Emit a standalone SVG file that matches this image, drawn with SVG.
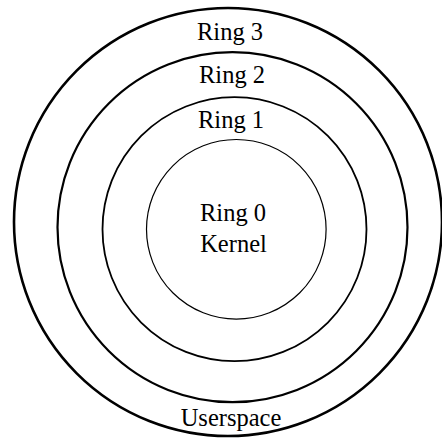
<svg xmlns="http://www.w3.org/2000/svg" width="442" height="440" viewBox="0 0 442 440">
<style>
  .ring { fill: none; stroke: #000; }
  .lbl { font-family: "Liberation Serif", "DejaVu Serif", serif; font-size: 24.5px; fill: #000; text-anchor: middle; }
</style>
<rect x="0" y="0" width="442" height="440" fill="#fff"/>
<g id="ring3">
  <circle class="ring" cx="228" cy="222" r="214" stroke-width="2.6"/>
  <text class="lbl" x="230" y="40">Ring 3</text>
  <text class="lbl" x="231" y="426">Userspace</text>
</g>
<g id="ring2">
  <circle class="ring" cx="232.5" cy="227.2" r="175" stroke-width="2.2"/>
  <text class="lbl" x="232" y="83">Ring 2</text>
</g>
<g id="ring1">
  <circle class="ring" cx="234.5" cy="229.2" r="132" stroke-width="1.8"/>
  <text class="lbl" x="231" y="128">Ring 1</text>
</g>
<g id="ring0">
  <circle class="ring" cx="236.3" cy="229.3" r="89.8" stroke-width="1.2"/>
  <text class="lbl" x="233" y="221">Ring 0</text>
  <text class="lbl" x="233.5" y="252">Kernel</text>
</g>
<g id="connectors"></g>
</svg>
